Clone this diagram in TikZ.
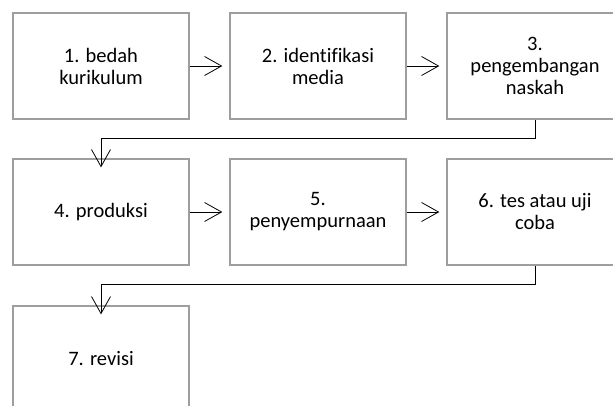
\documentclass[tikz,border=0pt]{standalone}
\usepackage{fontspec}
\setmainfont[Ligatures=NoCommon]{Carlito}
\usetikzlibrary{arrows.meta}

\tikzset{
  box/.style={draw=black!38, line width=1.3pt, rectangle,
    minimum width=176pt, minimum height=106pt, align=center,
    font=\fontsize{20.5}{22}\selectfont},
  arr/.style={-{Straight Barb[length=17pt,width=19pt]}, line width=0.8pt}
}

\begin{document}
\begin{tikzpicture}[x=1pt,y=-1pt]

% Frame
\useasboundingbox (0,0) rectangle (613,406);
\clip (0,0) rectangle (613,406);

% First row
\node[box] (bedah) at (101,66) {1. bedah\\kurikulum};
\node[box] (identifikasi) at (318,66) {2. identifikasi\\media};
\node[box] (naskah) at (535,66) {3.\\pengembangan\\naskah};

% Second row
\node[box] (produksi) at (101,212) {4. produksi};
\node[box] (sempurna) at (318,212) {5.\\penyempurnaan};
\node[box] (uji) at (535,212) {6. tes atau uji\\coba};

% Third row
\node[box] (revisi) at (101,359) {7. revisi};

% Arrows along the rows
\draw[arr, shorten >=7pt] (bedah) -- (identifikasi);
\draw[arr, shorten >=7pt] (identifikasi) -- (naskah);
\draw[arr, shorten >=7pt] (produksi) -- (sempurna);
\draw[arr, shorten >=7pt] (sempurna) -- (uji);

% Arrows down to the next row
\draw[arr] (naskah.south) -- ++(0,19) -| ([yshift=-9pt]produksi.north);
\draw[arr] (uji.south) -- ++(0,19) -| ([yshift=-9pt]revisi.north);

\end{tikzpicture}
\end{document}
